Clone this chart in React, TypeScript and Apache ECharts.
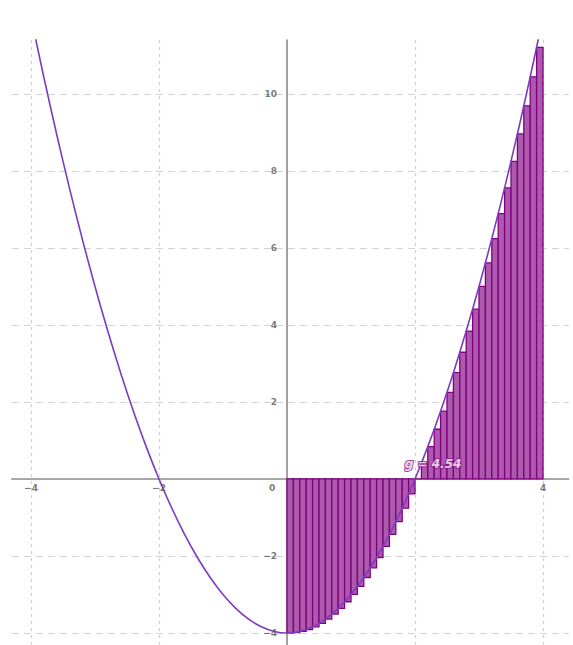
import React, { useEffect, useRef } from "react";
import * as echarts from "echarts";

// Left-endpoint rectangles on [0, 4], width 0.1
const barLeft = [
  0.0, 0.1, 0.2, 0.3, 0.4, 0.5, 0.6, 0.7, 0.8, 0.9,
  1.0, 1.1, 1.2, 1.3, 1.4, 1.5, 1.6, 1.7, 1.8, 1.9,
  2.0, 2.1, 2.2, 2.3, 2.4, 2.5, 2.6, 2.7, 2.8, 2.9,
  3.0, 3.1, 3.2, 3.3, 3.4, 3.5, 3.6, 3.7, 3.8, 3.9,
];
const barHeights = [
  -4, -3.99, -3.96, -3.91, -3.84, -3.75, -3.64, -3.51, -3.36, -3.19,
  -3, -2.79, -2.56, -2.31, -2.04, -1.75, -1.44, -1.11, -0.76, -0.39,
  0, 0.41, 0.84, 1.29, 1.76, 2.25, 2.76, 3.29, 3.84, 4.41,
  5, 5.61, 6.24, 6.89, 7.56, 8.25, 8.96, 9.69, 10.44, 11.21,
];
const barWidth = 0.1;

// Curve samples
const curveX = [
  -4, -3.8, -3.6, -3.4, -3.2, -3, -2.8, -2.6, -2.4, -2.2, -2,
  -1.8, -1.6, -1.4, -1.2, -1, -0.8, -0.6, -0.4, -0.2, 0,
  0.2, 0.4, 0.6, 0.8, 1, 1.2, 1.4, 1.6, 1.8, 2,
  2.2, 2.4, 2.6, 2.8, 3, 3.2, 3.4, 3.6, 3.8, 4,
];
const curveY = [
  12, 10.44, 8.96, 7.56, 6.24, 5, 3.84, 2.76, 1.76, 0.84, 0,
  -0.76, -1.44, -2.04, -2.56, -3, -3.36, -3.64, -3.84, -3.96, -4,
  -3.96, -3.84, -3.64, -3.36, -3, -2.56, -2.04, -1.44, -0.76, 0,
  0.84, 1.76, 2.76, 3.84, 5, 6.24, 7.56, 8.96, 10.44, 12,
];

const xGridValues = [-4, -2, 2, 4];
const xLabelValues = [-4, -2, 0, 4];
const yGridValues = [-4, -2, 2, 4, 6, 8, 10];
const yLabelValues = [-4, -2, 2, 4, 6, 8, 10];

const sumLabel = "g = 4.54";
const sumLabelAnchor = [1.84, 0.4];

const fmt = (v: number) => (v < 0 ? "\u2212" + Math.abs(v) : String(v));

export default function App() {
  const ref = useRef<HTMLDivElement>(null);
  useEffect(() => {
    if (!ref.current) return;
    const chart = echarts.init(ref.current, null, { renderer: "svg" });
    const labelStyle = {
      color: "#555",
      fontSize: 9,
      fontWeight: "bold" as const,
      fontFamily: "DejaVu Sans, sans-serif",
    };
    chart.setOption({
      animation: false,
      backgroundColor: "#fff",
      grid: {
        left: 11.8,
        right: 4.4,
        top: 40,
        bottom: 0.5,
        containLabel: false,
        outerBoundsMode: "none",
      },
      xAxis: {
        type: "value",
        min: -4.3,
        max: 4.4,
        axisLine: { onZero: true, lineStyle: { color: "#8a8a8a", width: 1.6 } },
        axisTick: { show: false, customValues: xGridValues },
        axisLabel: { show: false },
        splitLine: {
          show: true,
          lineStyle: { color: "#cfcfcf", type: [3, 4], width: 1.2 },
        },
      },
      yAxis: {
        type: "value",
        min: -4.3,
        max: 11.4,
        axisLine: { onZero: true, lineStyle: { color: "#8a8a8a", width: 1.6 } },
        axisTick: { show: false, customValues: yGridValues },
        axisLabel: { show: false },
        splitLine: {
          show: true,
          lineStyle: { color: "#d2d2d2", type: [7, 5], width: 1.2 },
        },
      },
      series: [
        {
          type: "custom",
          z: 2,
          data: barLeft.map((x, i) => [x, x + barWidth, barHeights[i]]),
          encode: { x: [0, 1], y: 2 },
          renderItem: (params: any, api: any) => {
            const x0 = api.value(0);
            const x1 = api.value(1);
            const h = api.value(2);
            const p0 = api.coord([x0, 0]);
            const p1 = api.coord([x1, h]);
            return {
              type: "rect",
              shape: {
                x: p0[0],
                y: Math.min(p0[1], p1[1]),
                width: p1[0] - p0[0],
                height: Math.abs(p1[1] - p0[1]),
              },
              style: { fill: "#ad5aad", stroke: "#800080", lineWidth: 1.3 },
            };
          },
        },
        {
          type: "line",
          z: 3,
          data: curveX.map((x, i) => [x, curveY[i]]),
          smooth: 0.35,
          symbol: "none",
          clip: true,
          lineStyle: { color: "#7d3cbd", width: 1.6 },
        },
        {
          // x-axis tick labels, placed under the x-axis line
          type: "scatter",
          z: 5,
          silent: true,
          symbolSize: 0,
          data: xLabelValues.map((v) => [v, 0]),
          label: {
            show: true,
            position: "bottom",
            distance: 5,
            ...labelStyle,
            formatter: (p: any) => {
              const v = p.value[0];
              return v === 0 ? "{o|0}" : fmt(v);
            },
            rich: { o: { ...labelStyle, padding: [0, 30, 0, 0] } },
          },
        },
        {
          // y-axis tick labels, placed left of the y-axis line
          type: "scatter",
          z: 5,
          silent: true,
          symbolSize: 0,
          data: yLabelValues.map((v) => [0, v]),
          label: {
            show: true,
            position: "left",
            distance: 10,
            ...labelStyle,
            formatter: (p: any) => fmt(p.value[1]),
          },
        },
        {
          type: "scatter",
          z: 6,
          silent: true,
          data: [sumLabelAnchor],
          symbolSize: 0,
          label: {
            show: true,
            position: "right",
            distance: 0,
            formatter: sumLabel,
            color: "#fff",
            fontSize: 12,
            fontWeight: "bold",
            fontStyle: "italic",
            fontFamily: "DejaVu Sans, sans-serif",
            textBorderColor: "#8a1a8a",
            textBorderWidth: 2,
          },
        },
      ],
    });
    return () => chart.dispose();
  }, []);
  return (
    <div
      ref={ref}
      style={{ position: "absolute", left: 0, top: 0, width: 573, height: 645 }}
    />
  );
}
